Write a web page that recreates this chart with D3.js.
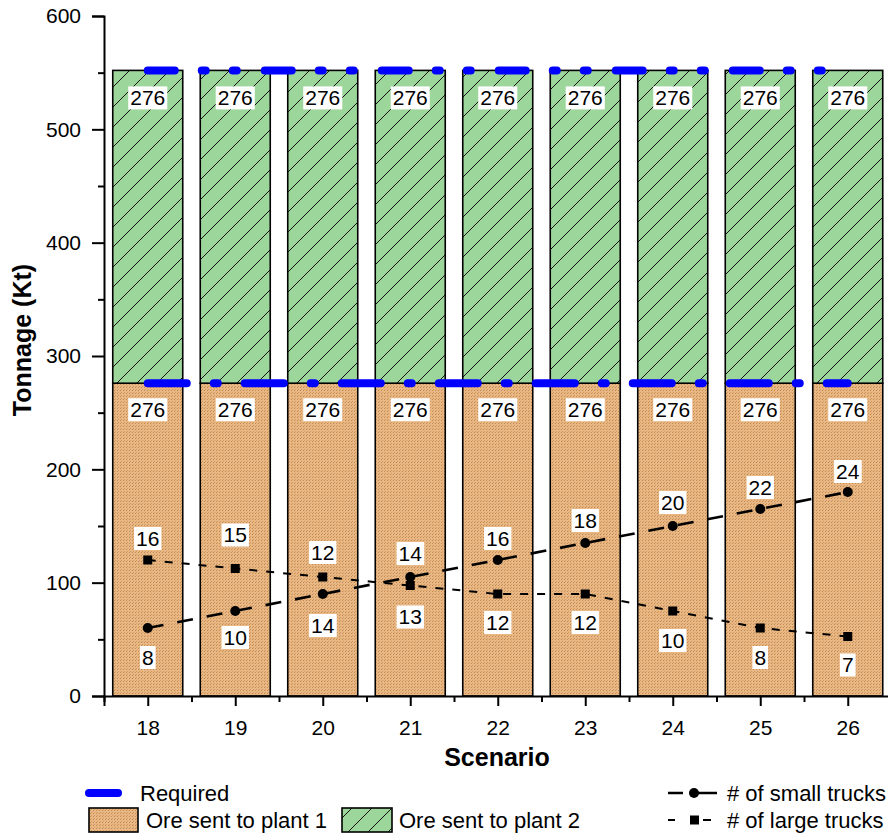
<!DOCTYPE html>
<html>
<head>
<meta charset="utf-8">
<script src="https://cdn.jsdelivr.net/npm/d3@7"></script>
<style>
  html, body { margin: 0; padding: 0; background: #fff; }
  svg { display: block; font-family: Arial, "Liberation Sans", sans-serif; }
</style>
</head>
<body>
<svg id="chart" width="888" height="837"></svg>
<script>
// Scenario data
const scenarios = [18, 19, 20, 21, 22, 23, 24, 25, 26];
const plant1 = [276, 276, 276, 276, 276, 276, 276, 276, 276];   // Kt ore sent to plant 1
const plant2 = [276, 276, 276, 276, 276, 276, 276, 276, 276];   // Kt ore sent to plant 2
const requiredLevels = [276, 552];                              // required tonnage lines
const smallTrucks = [8, 10, 12, 14, 16, 18, 20, 22, 24];
const largeTrucks = [16, 15, 14, 13, 12, 12, 10, 8, 7];
const yTicks = [0, 100, 200, 300, 400, 500, 600];

// Label offsets (px) from each truck marker; negative = above
const smallLabelDy = [29, 26, -42, -24, -22, -23, -24, -22, -21];
const largeLabelDy = [-22, -34, 48, 31, 28, 28, 29, 29, 28];

const svg = d3.select("#chart");
const FONT = 21;
const LEGEND_FONT = 22;

const x = d3.scaleLinear().domain([17.5, 26.5]).range([104, 891.5]);
const y = d3.scaleLinear().domain([0, 600]).range([696, 16]);
// truck counts share the plot area on their own scale (7.5 Kt per truck)
const yTruck = d3.scaleLinear().domain([0, 80]).range([696, 16]);
const barW = (x(19) - x(18)) * 0.8;

// Patterns
const defs = svg.append("defs");
const dots = defs.append("pattern").attr("id", "dots")
  .attr("patternUnits", "userSpaceOnUse").attr("width", 3).attr("height", 3);
dots.append("rect").attr("width", 3).attr("height", 3).attr("fill", "#e9b783");
dots.append("rect").attr("x", 0).attr("y", 0).attr("width", 1).attr("height", 1).attr("fill", "#c18a50");
dots.append("rect").attr("x", 1).attr("y", 2).attr("width", 1).attr("height", 1).attr("fill", "#d09a60");

const H = 20;
const hatch = defs.append("pattern").attr("id", "hatch")
  .attr("patternUnits", "userSpaceOnUse").attr("width", H).attr("height", H);
hatch.append("rect").attr("width", H).attr("height", H).attr("fill", "#9dd69b");
hatch.append("path")
  .attr("d", `M-2,${H + 2} L${H + 2},-2 M-2,2 L2,-2 M${H - 2},${H + 2} L${H + 2},${H - 2}`)
  .attr("stroke", "#111").attr("stroke-width", 1);

const g = svg.append("g");

// Stacked bars
scenarios.forEach((s, i) => {
  g.append("rect")
    .attr("x", x(s) - barW / 2).attr("y", y(plant1[i]))
    .attr("width", barW).attr("height", y(0) - y(plant1[i]))
    .attr("fill", "url(#dots)").attr("stroke", "#000").attr("stroke-width", 1.6);
  g.append("rect")
    .attr("x", x(s) - barW / 2).attr("y", y(plant1[i] + plant2[i]))
    .attr("width", barW).attr("height", y(plant1[i]) - y(plant1[i] + plant2[i]))
    .attr("fill", "url(#hatch)").attr("stroke", "#000").attr("stroke-width", 1.6);
});

// Required lines
const reqDash = { 276: "39,27,4,27", 552: "27,27,4,27,4,28" };
requiredLevels.forEach(v => {
  g.append("line")
    .attr("x1", x(scenarios[0])).attr("x2", x(scenarios[scenarios.length - 1]))
    .attr("y1", y(v)).attr("y2", y(v))
    .attr("stroke", "#0000ff").attr("stroke-width", 8)
    .attr("stroke-linecap", "round").attr("stroke-dasharray", reqDash[v]);
});

// Value labels with white boxes
function boxLabel(cx, cy, txt) {
  const t = g.append("text").attr("x", cx).attr("y", cy)
    .attr("text-anchor", "middle").attr("dominant-baseline", "central")
    .attr("font-size", FONT).attr("fill", "#000").text(txt);
  const bb = t.node().getBBox();
  g.insert("rect", () => t.node())
    .attr("x", bb.x - 2).attr("y", cy - 11).attr("width", bb.width + 4).attr("height", 23)
    .attr("fill", "#fff");
}
scenarios.forEach((s, i) => {
  boxLabel(x(s), y(plant1[i] + plant2[i]) + 27, plant2[i]);
  boxLabel(x(s), y(plant1[i]) + 26, plant1[i]);
});

// Truck lines
const truckLine = d3.line().x((d, i) => x(scenarios[i])).y(d => yTruck(d));
g.append("path").datum(smallTrucks).attr("d", truckLine)
  .attr("fill", "none").attr("stroke", "#000").attr("stroke-width", 2.6)
  .attr("stroke-dasharray", "16,14");
g.append("path").datum(largeTrucks).attr("d", truckLine)
  .attr("fill", "none").attr("stroke", "#000").attr("stroke-width", 2)
  .attr("stroke-dasharray", "8,9");

scenarios.forEach((s, i) => {
  g.append("circle").attr("cx", x(s)).attr("cy", yTruck(smallTrucks[i])).attr("r", 5).attr("fill", "#000");
  g.append("rect").attr("x", x(s) - 4.5).attr("y", yTruck(largeTrucks[i]) - 4.5)
    .attr("width", 9).attr("height", 9).attr("fill", "#000");
});
scenarios.forEach((s, i) => {
  boxLabel(x(s), yTruck(smallTrucks[i]) + smallLabelDy[i], smallTrucks[i]);
  boxLabel(x(s), yTruck(largeTrucks[i]) + largeLabelDy[i], largeTrucks[i]);
});

// Axes
const minorX = d3.range(17.5, 26.51, 0.5).filter(v => v % 1 !== 0);
const xMinor = svg.append("g").attr("transform", "translate(0,696)")
  .call(d3.axisBottom(x).tickValues(minorX).tickSize(6).tickFormat(""));
const xAxis = svg.append("g").attr("transform", "translate(0,696)")
  .call(d3.axisBottom(x).tickValues(scenarios).tickSize(10).tickPadding(14).tickFormat(d3.format("d")));
const minorY = d3.range(50, 600, 100);
const yMinor = svg.append("g").attr("transform", "translate(104,0)")
  .call(d3.axisLeft(y).tickValues(minorY).tickSize(6).tickFormat(""));
const yAxis = svg.append("g").attr("transform", "translate(104,0)")
  .call(d3.axisLeft(y).tickValues(yTicks).tickSize(12).tickPadding(11));

[xMinor, xAxis, yMinor, yAxis].forEach(a => {
  a.selectAll("path, line").attr("stroke", "#000").attr("stroke-width", 2);
  a.selectAll("text").attr("font-size", FONT).attr("fill", "#000")
    .attr("font-family", "Arial, 'Liberation Sans', sans-serif");
});
xMinor.select(".domain").remove();
yMinor.select(".domain").remove();

svg.append("text").attr("x", 497).attr("y", 757)
  .attr("text-anchor", "middle").attr("dominant-baseline", "central")
  .attr("font-size", 25).attr("font-weight", "bold").text("Scenario");
svg.append("text").attr("transform", "translate(22,340) rotate(-90)")
  .attr("text-anchor", "middle").attr("dominant-baseline", "central")
  .attr("font-size", 25).attr("font-weight", "bold").text("Tonnage (Kt)");

// Legend
const lg = svg.append("g").attr("font-size", LEGEND_FONT);
lg.append("line").attr("x1", 89).attr("x2", 118).attr("y1", 793).attr("y2", 793)
  .attr("stroke", "#0000ff").attr("stroke-width", 8).attr("stroke-linecap", "round");
lg.append("text").attr("x", 140).attr("y", 793).attr("dominant-baseline", "central").text("Required");

lg.append("rect").attr("x", 89).attr("y", 808).attr("width", 49).attr("height", 24)
  .attr("fill", "url(#dots)").attr("stroke", "#000").attr("stroke-width", 1.6);
lg.append("text").attr("x", 146).attr("y", 820).attr("dominant-baseline", "central").text("Ore sent to plant 1");

lg.append("rect").attr("x", 342).attr("y", 808).attr("width", 50).attr("height", 24)
  .attr("fill", "url(#hatch)").attr("stroke", "#000").attr("stroke-width", 1.6);
lg.append("text").attr("x", 399).attr("y", 820).attr("dominant-baseline", "central").text("Ore sent to plant 2");

lg.append("line").attr("x1", 668).attr("x2", 717).attr("y1", 793).attr("y2", 793)
  .attr("stroke", "#000").attr("stroke-width", 2.6).attr("stroke-dasharray", "15,8,49");
lg.append("circle").attr("cx", 694).attr("cy", 793).attr("r", 5).attr("fill", "#000");
lg.append("text").attr("x", 727).attr("y", 793).attr("dominant-baseline", "central").text("# of small trucks");

lg.append("line").attr("x1", 668).attr("x2", 675).attr("y1", 820).attr("y2", 820)
  .attr("stroke", "#000").attr("stroke-width", 2);
lg.append("line").attr("x1", 703).attr("x2", 711).attr("y1", 820).attr("y2", 820)
  .attr("stroke", "#000").attr("stroke-width", 2);
lg.append("rect").attr("x", 690).attr("y", 815.5).attr("width", 9).attr("height", 9).attr("fill", "#000");
lg.append("text").attr("x", 727).attr("y", 820).attr("dominant-baseline", "central").text("# of large trucks");
</script>
</body>
</html>
